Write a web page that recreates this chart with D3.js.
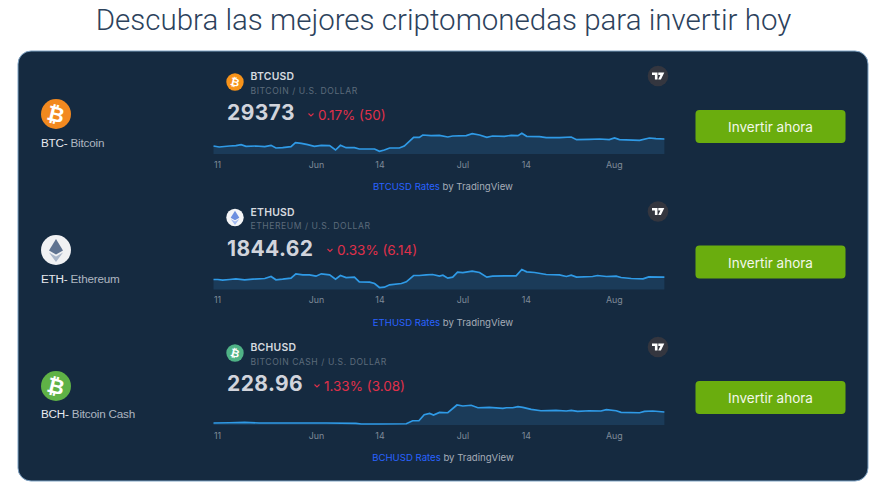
<!DOCTYPE html>
<html>
<head>
<meta charset="utf-8">
<script src="https://cdn.jsdelivr.net/npm/d3@7"></script>
<style>
	html, body { margin: 0; padding: 0; background: #fff; }
	svg { display: block; }
	.tv { font-family: Inter, "Noto Sans", sans-serif; }
	.coin-label { font-family: "Liberation Sans", Arial, sans-serif; font-size: 11.7px; letter-spacing: -0.2px; }
</style>
</head>
<body>
<div id="chart-area"></div>
<script>

// values. days = days since 11 May
let btcDays = [0,1.2,3.3,4.6,5.7,6.7,8.7,10.5,11.8,12.8,14.2,15.9,16.8,18,19.3,20.7,22.1,23.8,25,26,27.2,28.9,29.9,33,34,35,36.1,38.1,39.1,41,42.2,42.9,44.6,46.3,
	48,49,51.8,53,54.5,56,57.2,59.6,61,62.4,63.2,64.2,66.8,68.2,70.9,73.3,74.4,77,79.1,81.1,82.2,83.2,87.3,89.3,90.7,92.4];
let btcPrices = [26880,26520,26880,27000,27360,26760,26880,26640,27120,26160,26280,26640,28080,27840,27360,26760,27120,27000,25440,27120,26280,26280,25800,25800,24960,25440,26160,26160,26880,30000,30000,30840,30600,30720,
	30120,30480,30600,31320,30840,30000,30480,30360,30720,30600,31440,30360,30240,29880,29880,30120,29160,29280,29400,29160,29760,29160,28920,29760,29520,29400];

let ethDays = [0,0.9,1.9,3.3,4.6,6.4,8.1,10.5,11.8,12.8,14.2,15.9,16.9,18.3,19.7,21,22.1,23.8,25,26,27.2,28.9,29.9,32,33,34,35,36.1,38.5,39.5,41,42.2,43.6,44.9,46.3,
	47,48,49,50,51.1,53,54.5,56,57.2,59.6,62,63.2,64.2,65.8,68.2,70.9,72.3,73.3,74.4,77.7,78.7,80.5,82.5,83.5,85.6,88,89.2,92.4];
let ethPrices = [1800,1800,1787,1800,1813,1794,1806,1819,1858,1794,1806,1826,1909,1890,1890,1864,1909,1890,1806,1877,1838,1845,1755,1749,1723,1646,1653,1698,1723,1755,1877,1877,1890,1896,1864,
	1883,1826,1845,1941,1934,1960,1934,1845,1864,1870,1870,1992,1947,1934,1896,1890,1858,1883,1845,1858,1877,1858,1864,1838,1819,1813,1851,1845];

let bchDays = [0,3.3,6.4,9.4,16.3,23.1,29.2,30.3,34,39.5,40.8,42.1,43.2,44.3,45.1,46.3,
	48,49.9,51.1,52.8,54.2,56.5,59.3,60,61.3,62.4,63.4,65.1,67.1,70.2,72.3,73.3,74.6,77,79.4,80.5,82.5,83.5,87.3,88.3,90,92.4];
let bchPrices = [109,112,116,109,109,109,105,98,98,101,134,134,200,215,197,226,
	222,307,296,304,277,281,270,277,277,288,281,259,244,248,241,248,237,244,241,255,244,226,222,237,241,230];

let tickDates = [new Date(2023,4,11), new Date(2023,5,1), new Date(2023,5,14), new Date(2023,6,1), new Date(2023,6,14), new Date(2023,7,1)];
let tickLabels = ["11","Jun","14","Jul","14","Aug"];

let symbols = ["BTCUSD","ETHUSD","BCHUSD"];
let names = ["BITCOIN / U.S. DOLLAR","ETHEREUM / U.S. DOLLAR","BITCOIN CASH / U.S. DOLLAR"];
let lastPrices = ["29373","1844.62","228.96"];
let changes = ["0.17% (50)","0.33% (6.14)","1.33% (3.08)"];
let coinCodes = ["BTC-","ETH-","BCH-"];
let coinNames = [" Bitcoin"," Ethereum"," Bitcoin Cash"];
let yDomains = [[24000,33000],[1608,2088],[87,362]];

let rows = [
	{days: btcDays, prices: btcPrices, iconBig: "#f2891f", iconSmall: "#f7931a", changeX: 318},
	{days: ethDays, prices: ethPrices, iconBig: "#f0f1f3", iconSmall: "#f4f5f7", changeX: 337},
	{days: bchDays, prices: bchPrices, iconBig: "#5fb246", iconSmall: "#4fb286", changeX: 324}
];

let rowStep = 135.5;
let startDate = tickDates[0];

let svg = d3.select("#chart-area").append("svg")
	.attr("width", 887)
	.attr("height", 502);

svg.append("text")
	.attr("x", 443.5)
	.attr("y", 30)
	.attr("text-anchor", "middle")
	.attr("font-family", "Roboto, sans-serif")
	.attr("font-weight", 300)
	.attr("font-size", 29.5)
	.attr("fill", "#2c425c")
	.text("Descubra las mejores criptomonedas para invertir hoy");

// panel
svg.append("rect")
	.attr("x", 18).attr("y", 51)
	.attr("width", 850).attr("height", 430)
	.attr("rx", 13)
	.attr("fill", "#152a40")
	.attr("stroke", "#7fa3c4")
	.attr("stroke-width", 1);

let xscale = d3.scaleTime()
	.domain([startDate, d3.timeHour.offset(startDate, 92.5 * 24)])
	.range([213.5, 665]);

function bitcoinGlyph(g, cx, cy, size) {
	g.append("text")
		.attr("transform", "translate(" + cx + "," + cy + ") rotate(14)")
		.attr("text-anchor", "middle")
		.attr("dy", "0.36em")
		.attr("font-family", "DejaVu Sans, sans-serif")
		.attr("font-weight", "bold")
		.attr("font-size", size)
		.attr("fill", "#fff")
		.text("₿");
}

function ethGlyph(g, cx, cy, s, top, bottom) {
	g.append("polygon")
		.attr("points", [[0,-11],[7,0.5],[0,4.5],[-7,0.5]].map(p => [cx + p[0]*s, cy + p[1]*s]).join(" "))
		.attr("fill", top);
	g.append("polygon")
		.attr("points", [[0,6.5],[7,2.5],[0,12],[-7,2.5]].map(p => [cx + p[0]*s, cy + p[1]*s]).join(" "))
		.attr("fill", bottom);
}

rows.forEach(function(row, i) {
	let dy = i * rowStep;
	let g = svg.append("g");

	// left column
	let iconY = 114 + i * 136;
	g.append("circle").attr("cx", 56).attr("cy", iconY).attr("r", 15).attr("fill", row.iconBig);
	if (i === 1) ethGlyph(g, 56, iconY, 1, "#5f7391", "#a9b6c9");
	else bitcoinGlyph(g, 56, iconY, 21);

	let label = g.append("text")
		.attr("class", "coin-label")
		.attr("x", 41)
		.attr("y", 147 + dy);
	label.append("tspan").attr("fill", "#e8ebef").text(coinCodes[i]);
	label.append("tspan").attr("fill", "#aeb6c0").attr("xml:space", "preserve").text(coinNames[i]);

	// header of the widget
	let headY = 82 + dy;
	g.append("circle").attr("cx", 235).attr("cy", headY).attr("r", 8.7).attr("fill", row.iconSmall);
	if (i === 1) ethGlyph(g, 235, headY, 0.62, "#6d8fe0", "#a3bbf0");
	else bitcoinGlyph(g, 235, headY, 11);

	g.append("text").attr("class", "tv")
		.attr("x", 250.5).attr("y", 80 + dy)
		.attr("font-size", 10.4).attr("font-weight", 600)
		.attr("letter-spacing", 0.25)
		.attr("fill", "#d5d9df")
		.text(symbols[i]);
	g.append("text").attr("class", "tv")
		.attr("x", 250.5).attr("y", 93.5 + dy)
		.attr("font-size", 8.6)
		.attr("letter-spacing", 0.55)
		.attr("fill", "#5c6b7b")
		.text(names[i]);
	g.append("text").attr("class", "tv")
		.attr("x", 227).attr("y", 120 + dy)
		.attr("font-size", 21).attr("font-weight", 700)
		.attr("letter-spacing", 0.4)
		.attr("fill", "#d1d4dc")
		.text(lastPrices[i]);

	// down chevron + change
	let cx = row.changeX - 7;
	g.append("path")
		.attr("d", d3.line()([[cx - 2.5, 113.5 + dy], [cx, 116 + dy], [cx + 2.5, 113.5 + dy]]))
		.attr("fill", "none")
		.attr("stroke", "#e0304a")
		.attr("stroke-width", 1.1);
	g.append("text").attr("class", "tv")
		.attr("x", row.changeX).attr("y", 119.5 + dy)
		.attr("font-size", 13.5)
		.attr("fill", "#e0304a")
		.text(changes[i]);

	// TV badge
	let tvX = 658, tvY = 76 + dy;
	g.append("circle").attr("cx", tvX).attr("cy", tvY).attr("r", 10.3).attr("fill", "#34363f");
	g.append("path")
		.attr("d", "M" + (tvX-6) + " " + (tvY-3.5) + "h5.5v7h-2.6v-4.4h-2.9z M" + (tvX+0.3) + " " + (tvY-3.5) + "h6l-3.4 7h-2.7l2.2-4.6h-2.1z")
		.attr("fill", "#fff");

	// line and area
	let yscale = d3.scaleLinear().domain(yDomains[i]).range([154 + dy, 129 + dy]);
	let dates = row.days.map(d => d3.timeHour.offset(startDate, d * 24));
	let points = dates.map((d, j) => ({date: d, price: row.prices[j]}));

	g.append("path")
		.datum(points)
		.attr("fill", "#1b3b59")
		.attr("d", d3.area().x(d => xscale(d.date)).y0(yscale.range()[0]).y1(d => yscale(d.price)));
	g.append("path")
		.datum(points)
		.attr("fill", "none")
		.attr("stroke", "#2f9ae6")
		.attr("stroke-width", 1.7)
		.attr("d", d3.line().x(d => xscale(d.date)).y(d => yscale(d.price)));

	// axis
	let xAxis = d3.axisBottom(xscale)
		.tickValues(tickDates)
		.tickFormat((d, j) => tickLabels[j])
		.tickSize(0)
		.tickPadding(0);
	let axisGroup = g.append("g")
		.attr("class", "tv")
		.attr("transform", "translate(0," + (161.5 + dy) + ")")
		.call(xAxis);
	axisGroup.select(".domain").remove();
	axisGroup.selectAll("text")
		.attr("font-family", "Inter, sans-serif")
		.attr("font-size", 8.8)
		.attr("fill", "#7f8b98");
	axisGroup.selectAll("text").filter((d, j) => j === 0).attr("text-anchor", "start");

	// footer
	let foot = g.append("text").attr("class", "tv")
		.attr("x", 443).attr("y", 190 + dy)
		.attr("text-anchor", "middle")
		.attr("font-size", 9.6);
	foot.append("tspan").attr("fill", "#2962ff").text(symbols[i] + " Rates");
	foot.append("tspan").attr("fill", "#a6adb8").attr("xml:space", "preserve").text(" by TradingView");

	// button
	g.append("rect")
		.attr("x", 695.5).attr("y", 110 + dy)
		.attr("width", 150).attr("height", 33)
		.attr("rx", 4)
		.attr("fill", "#6aad0e");
	g.append("text")
		.attr("x", 770.5).attr("y", 132 + dy)
		.attr("text-anchor", "middle")
		.attr("font-family", "Inter, sans-serif")
		.attr("font-size", 13.5)
		.attr("fill", "#f3f7ea")
		.text("Invertir ahora");
});

</script>
</body>
</html>
